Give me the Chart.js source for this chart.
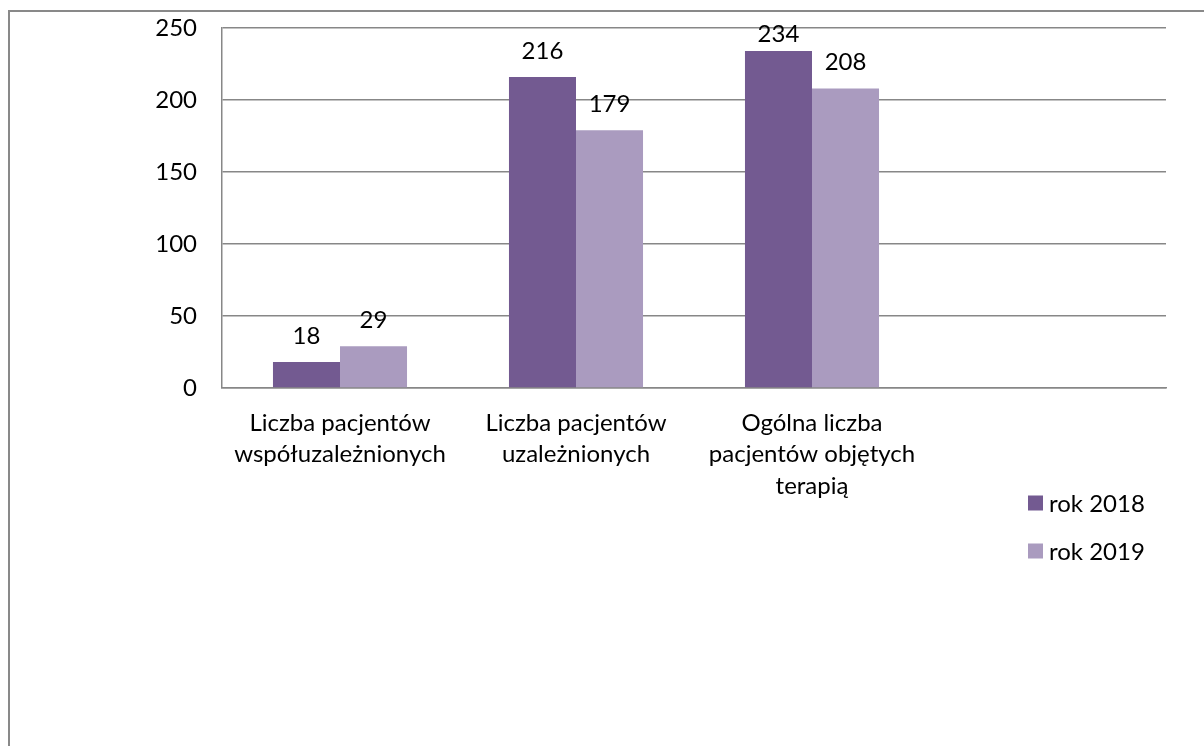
<!DOCTYPE html>
<html>
<head>
<meta charset="utf-8">
<script src="https://cdn.jsdelivr.net/npm/chart.js@4.4.1/dist/chart.umd.min.js"></script>
<style>
  html, body { margin: 0; padding: 0; background: #fff; overflow: hidden; }
  #wrap { position: relative; width: 1204px; height: 746px; }
  #frame {
    position: absolute; left: 8px; top: 10px;
    width: 1300px; height: 900px;
    border: 2px solid #898989; box-sizing: border-box;
  }
  #chart { position: absolute; left: 0; top: 0; }
</style>
</head>
<body>
<div id="wrap">
  <div id="frame"></div>
  <canvas id="chart" width="1204" height="746"></canvas>
</div>
<script>
// Data
const categories = [
  ["Liczba pacjentów", "współuzależnionych"],
  ["Liczba pacjentów", "uzależnionych"],
  ["Ogólna liczba", "pacjentów objętych", "terapią"],
  ""
];
const seriesNames = ["rok 2018", "rok 2019"];
const values2018 = [18, 216, 234, null];
const values2019 = [29, 179, 208, null];
const yTicks = [0, 50, 100, 150, 200, 250];

const FONT = "Lato";
const FONT_SIZE = 24;
const GRID = "#878787";

// Value labels above bars (kept inside the plot, like Excel does)
const valueLabels = {
  id: "valueLabels",
  afterDatasetsDraw(chart) {
    const ctx = chart.ctx;
    const top = chart.chartArea.top;
    ctx.save();
    ctx.font = FONT_SIZE + "px " + FONT;
    ctx.fillStyle = "#000";
    ctx.textAlign = "center";
    ctx.textBaseline = "middle";
    chart.data.datasets.forEach((ds, i) => {
      chart.getDatasetMeta(i).data.forEach((bar, j) => {
        const v = ds.data[j];
        if (v == null) return;
        const y = Math.max(bar.y - 26, top + 6);
        ctx.fillText(String(v), bar.x, y);
      });
    });
    ctx.restore();
  },
};

// Legend (bottom right, under the plot)
const sideLegend = {
  id: "sideLegend",
  afterDraw(chart) {
    const ctx = chart.ctx;
    ctx.save();
    ctx.font = FONT_SIZE + "px " + FONT;
    ctx.textBaseline = "middle";
    ctx.textAlign = "left";
    chart.data.datasets.forEach((ds, i) => {
      const cy = 503 + i * 48;
      ctx.fillStyle = ds.backgroundColor;
      ctx.fillRect(1028, cy - 7.5, 15, 15);
      ctx.fillStyle = "#000";
      ctx.fillText(ds.label, 1049, cy + 1);
    });
    ctx.restore();
  },
};

new Chart(document.getElementById("chart"), {
  type: "bar",
  data: {
    labels: categories,
    datasets: [
      { label: seriesNames[0], data: values2018, backgroundColor: "#735a91" },
      { label: seriesNames[1], data: values2019, backgroundColor: "#aa9bbf" },
    ],
  },
  options: {
    responsive: false,
    animation: false,
    events: [],
    layout: { padding: { top: 28, right: 38, left: 0, bottom: 0 } },
    plugins: { legend: { display: false }, tooltip: { enabled: false } },
    datasets: { bar: { categoryPercentage: 0.568, barPercentage: 1 } },
    scales: {
      x: {
        grid: { display: false, drawTicks: false },
        border: { display: true, color: GRID, width: 1.5 },
        ticks: {
          color: "#000",
          font: { family: FONT, size: FONT_SIZE, lineHeight: 1.32 },
          padding: 19,
          maxRotation: 0,
          autoSkip: false,
        },
        afterFit: (s) => {
          s.height = 746 - 388;
          s.paddingLeft = 0;
          s.paddingRight = 0;
        },
      },
      y: {
        min: yTicks[0],
        max: yTicks[yTicks.length - 1],
        afterBuildTicks: (s) => { s.ticks = yTicks.map((v) => ({ value: v })); },
        grid: { color: GRID, lineWidth: 1.5, drawTicks: false },
        border: { display: true, color: GRID, width: 1.5 },
        ticks: {
          color: "#000",
          font: { family: FONT, size: FONT_SIZE },
          padding: 25,
        },
        afterFit: (s) => {
          s.width = 222;
          s.paddingTop = 0;
          s.paddingBottom = 0;
        },
      },
    },
  },
  plugins: [valueLabels, sideLegend],
});
</script>
</body>
</html>
